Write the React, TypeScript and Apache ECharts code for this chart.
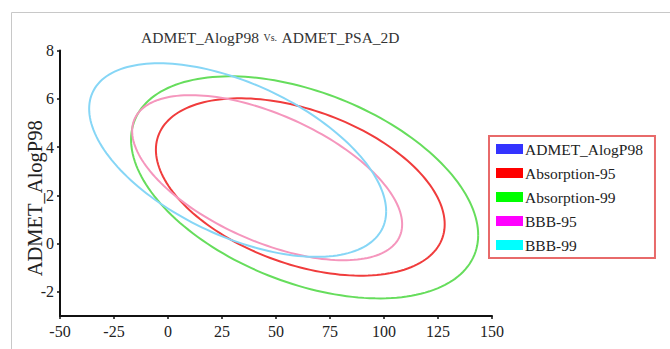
import React, { useEffect, useRef } from "react";
import * as echarts from "echarts";

const legendNames = ["ADMET_AlogP98", "Absorption-95", "Absorption-99", "BBB-95", "BBB-99"];
const legendColors = ["#0000ff", "#ff0000", "#00ff00", "#ff00ff", "#00ffff"];

// confidence ellipses (data units): center, half extents, tilt (y-offset ratio at extreme x)
const ellipseNames = ["Absorption-95", "Absorption-99", "BBB-95", "BBB-99"];
const ellipseLineColors = ["#f03c3c", "#66dd5c", "#f596bd", "#86d6f6"];
const centerX = [61.25, 63.25, 45.9, 32.25];
const centerY = [2.345, 2.33, 2.73, 3.46];
const halfRangeX = [66.85, 80.35, 62.5, 68.75];
const halfRangeY = [3.675, 4.6, 3.42, 4.01];
const tilt = [0.42, 0.43, 0.565, 0.53];

const xTicks = [-50, -25, 0, 25, 50, 75, 100, 125, 150];
const yTicks = [-2, 0, 2, 4, 6, 8];

const FONT = "Liberation Serif";

export default function App() {
  const ref = useRef<HTMLDivElement>(null);
  useEffect(() => {
    if (!ref.current) return;
    const chart = echarts.init(ref.current, undefined, { renderer: "svg" });

    const ellipseSeries = ellipseNames.map((name, i) => ({
      name,
      type: "custom",
      coordinateSystem: "cartesian2d",
      itemStyle: { color: legendColors[legendNames.indexOf(name)] },
      data: [[centerX[i], centerY[i], halfRangeX[i], halfRangeY[i], tilt[i]]],
      renderItem: (params: any, api: any) => {
        const cx = api.value(0);
        const cy = api.value(1);
        const ax = api.value(2);
        const ay = api.value(3);
        const r = api.value(4);
        const s = Math.sqrt(1 - r * r);
        const pts: number[][] = [];
        const N = 180;
        for (let k = 0; k <= N; k++) {
          const t = (2 * Math.PI * k) / N;
          pts.push(api.coord([cx + ax * Math.cos(t), cy + ay * (-r * Math.cos(t) + s * Math.sin(t))]));
        }
        return {
          type: "polyline",
          shape: { points: pts },
          style: { stroke: ellipseLineColors[i], lineWidth: 2, fill: null },
        };
      },
    }));

    const serif = (size: number, color = "#222") => ({
      fontFamily: FONT,
      fontWeight: "normal",
      fontSize: size,
      color,
    });

    chart.setOption({
      animation: false,
      textStyle: { fontFamily: FONT, fontWeight: "normal" },
      title: {
        text: "{a|ADMET_AlogP98} {b|Vs.} {a|ADMET_PSA_2D}",
        left: 141,
        top: 28,
        padding: 0,
        textStyle: {
          fontFamily: FONT,
          fontWeight: "normal",
          rich: {
            a: serif(15.5, "#333"),
            b: serif(10, "#333"),
          },
        },
      },
      graphic: [
        {
          type: "rect",
          shape: { x: 11.5, y: 12.5, width: 800, height: 500 },
          style: { fill: null, stroke: "#c8c8c8", lineWidth: 1 },
          silent: true,
        },
      ],
      legend: {
        orient: "vertical",
        left: 489,
        top: 136,
        data: legendNames,
        icon: "rect",
        itemWidth: 27,
        itemHeight: 10,
        itemGap: 8,
        padding: [5, 12, 5, 7],
        borderColor: "#e86a6a",
        borderWidth: 2,
        selectedMode: false,
        formatter: "{t|{name}}",
        textStyle: {
          ...serif(15.5),
          rich: { t: { ...serif(15.5), padding: [0, 0, 0, -3] } },
        },
      },
      grid: { left: 60, right: 178, top: 50.5, bottom: 33 },
      xAxis: {
        type: "value",
        min: -50,
        max: 150,
        interval: 25,
        splitLine: { show: false },
        axisLine: { onZero: false, lineStyle: { color: "#111", width: 2 } },
        axisTick: { length: 3, lineStyle: { color: "#111", width: 1.5 } },
        axisLabel: {
          ...serif(16),
          margin: 7,
          customValues: xTicks,
          formatter: "{t|{value}}",
          rich: { t: serif(16) },
        },
      },
      yAxis: {
        type: "value",
        min: -3,
        max: 8,
        name: "ADMET_AlogP98",
        nameLocation: "middle",
        nameGap: 15,
        nameMoveOverlap: false,
        nameTextStyle: { ...serif(20.5), padding: [0, 30, 0, 0] },
        splitLine: { show: false },
        axisLine: { show: true, onZero: false, lineStyle: { color: "#111", width: 2 } },
        axisTick: { show: true, length: 3, customValues: yTicks, lineStyle: { color: "#111", width: 1.5 } },
        axisLabel: {
          ...serif(16),
          margin: 6,
          customValues: yTicks,
          formatter: "{t|{value}}",
          rich: { t: serif(16) },
        },
      },
      series: [
        {
          name: "ADMET_AlogP98",
          type: "scatter",
          itemStyle: { color: legendColors[0] },
          data: [],
        },
        ...ellipseSeries,
      ],
    });
    return () => chart.dispose();
  }, []);
  return (
    <div
      ref={ref}
      style={{ position: "fixed", left: 0, top: 0, width: 670, height: 349, background: "#fff" }}
    />
  );
}
